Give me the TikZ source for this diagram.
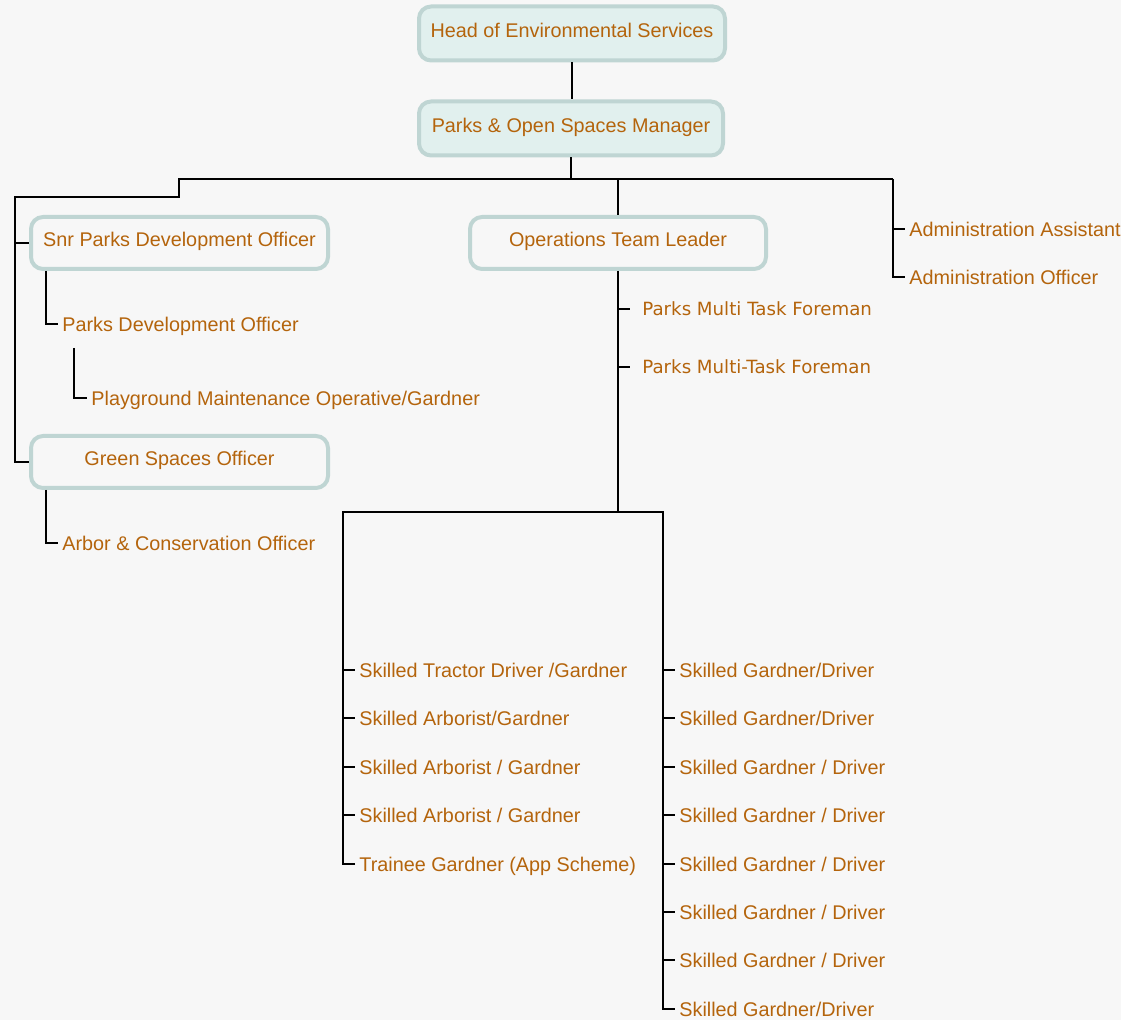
\documentclass[tikz,border=0pt]{standalone}
\usepackage{fontspec}
\setmainfont{Liberation Sans}
\newfontfamily\fmfont{DejaVu Sans}
\usetikzlibrary{calc}
\definecolor{paper}{HTML}{F7F7F7}
\definecolor{txt}{HTML}{B4640C}
\definecolor{rim}{HTML}{BFD5D3}
\definecolor{mint}{HTML}{E1F0EE}
\tikzset{
  post/.style={draw=rim, line width=2pt, rounded corners=6pt, fill=#1, text=txt,
    minimum width=148.5pt, minimum height=26pt, inner sep=0pt,
    text height=7.1pt, text depth=3.3pt, font=\fontsize{9.9}{12}\selectfont},
  post/.default=paper,
  role/.style={anchor=west, text=txt, inner ysep=0pt, inner xsep=2pt,
    text height=7.1pt, text depth=0pt, font=\fontsize{9.9}{12}\selectfont},
  foreman/.style={role, inner xsep=6pt, text height=6.6pt, font=\fmfont\fontsize{9.1}{11}\selectfont},
  link/.style={line width=0.8pt}
}
\begin{document}
\begin{tikzpicture}[x=0.5pt,y=-0.5pt]
\useasboundingbox (0,0) rectangle (1121,1020);
\fill[paper] (0,0) rectangle (1121,1020);
% boxes
\node[post=mint, minimum width=153pt, minimum height=27pt] (head) at (572,33.5) {Head of Environmental Services};
\node[post=mint, minimum width=152pt, minimum height=27pt] (mgr) at (571,128.5) {Parks \& Open Spaces Manager};
\node[post] (snr) at (179.5,243) {Snr Parks Development Officer};
\node[post, minimum width=148pt] (ops) at (618,243) {Operations Team Leader};
\node[post] (gso) at (179.5,462) {Green Spaces Officer};
% plain roles
\node[role] (aa) at (905,229) {Administration Assistant};
\node[role] (ao) at (905,277) {Administration Officer};
\node[role] (pdo) at (58,324) {Parks Development Officer};
\node[role] (pmo) at (87,398) {Playground Maintenance Operative/Gardner};
\node[role] (aco) at (58,543) {Arbor \& Conservation Officer};
\node[foreman] (fm1) at (630,309) {Parks Multi Task Foreman};
\node[foreman] (fm2) at (630,367) {Parks Multi-Task Foreman};
\node[role] (lc1) at (355,670) {Skilled Tractor Driver /Gardner};
\node[role] (lc2) at (355,718) {Skilled Arborist/Gardner};
\node[role] (lc3) at (355,767) {Skilled Arborist / Gardner};
\node[role] (lc4) at (355,815) {Skilled Arborist / Gardner};
\node[role] (lc5) at (355,864) {Trainee Gardner (App Scheme)};
\node[role] (rc1) at (675,670) {Skilled Gardner/Driver};
\node[role] (rc2) at (675,718) {Skilled Gardner/Driver};
\node[role] (rc3) at (675,767) {Skilled Gardner / Driver};
\node[role] (rc4) at (675,815) {Skilled Gardner / Driver};
\node[role] (rc5) at (675,864) {Skilled Gardner / Driver};
\node[role] (rc6) at (675,912) {Skilled Gardner / Driver};
\node[role] (rc7) at (675,960) {Skilled Gardner / Driver};
\node[role] (rc8) at (675,1009) {Skilled Gardner/Driver};
% connectors
\coordinate (mbus) at ($(mgr.south)+(0,22)$);
\coordinate (lbus) at (179,179); \coordinate (abus) at (893,179); \coordinate (spine) at (15,197);
\coordinate (obus) at (617,512); \coordinate (lcol) at (343,512); \coordinate (rcol) at (663,512);
\draw[link] (head.south) -- (head.south |- mgr.north);
\draw[link] (mgr.south) -- (mbus);
\draw[link] (abus) -- (lbus) |- (spine) |- (gso.west);
\draw[link] (spine |- snr.west) -- (snr.west);
\draw[link] (abus) |- (ao.west);
\draw[link] (abus |- aa.west) -- (aa.west);
\draw[link] (ops.north |- abus) -- (ops.north);
\draw[link] ($(snr.south west)+(17,0)$) |- (pdo.west);
\draw[link] ($(pdo.west)+(16,24)$) |- (pmo.west);
\draw[link] ($(gso.south west)+(17,0)$) |- (aco.west);
\draw[link] (ops.south) -- (ops.south |- obus);
\draw[link] (ops.south |- fm1.west) -- (fm1.west);
\draw[link] (ops.south |- fm2.west) -- (fm2.west);
\draw[link] (lc5.west) -| (lcol) -- (rcol) |- (rc8.west);
\draw[link] (lcol |- lc1.west) -- (lc1.west);
\draw[link] (lcol |- lc2.west) -- (lc2.west);
\draw[link] (lcol |- lc3.west) -- (lc3.west);
\draw[link] (lcol |- lc4.west) -- (lc4.west);
\draw[link] (rcol |- rc1.west) -- (rc1.west);
\draw[link] (rcol |- rc2.west) -- (rc2.west);
\draw[link] (rcol |- rc3.west) -- (rc3.west);
\draw[link] (rcol |- rc4.west) -- (rc4.west);
\draw[link] (rcol |- rc5.west) -- (rc5.west);
\draw[link] (rcol |- rc6.west) -- (rc6.west);
\draw[link] (rcol |- rc7.west) -- (rc7.west);
\end{tikzpicture}
\end{document}
